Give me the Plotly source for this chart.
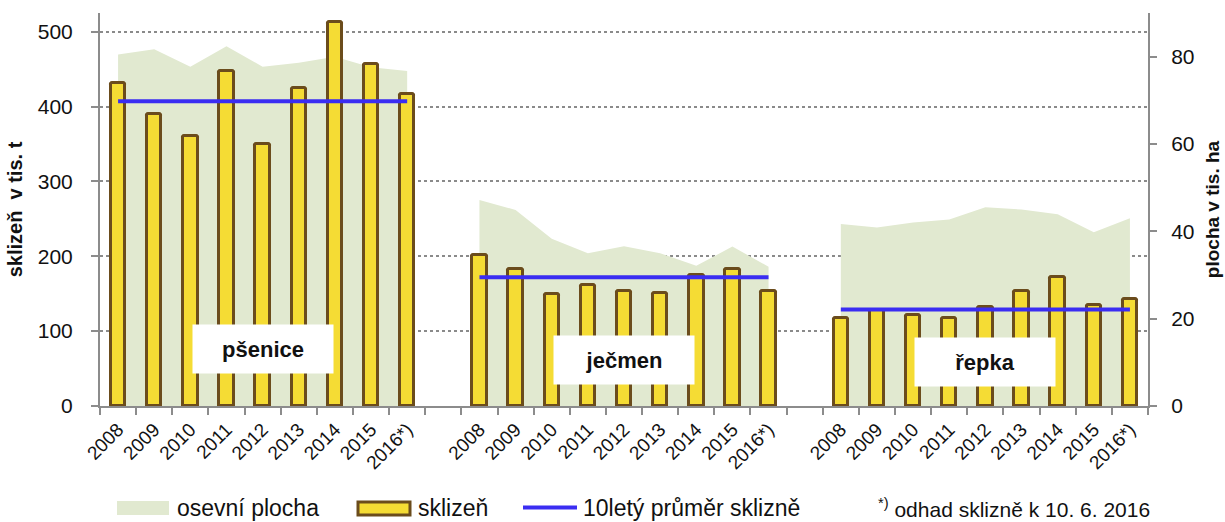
import plotly.graph_objects as go

# ---------------- data ----------------
crops = ["pšenice", "ječmen", "řepka"]
years = ["2008", "2009", "2010", "2011", "2012", "2013", "2014", "2015", "2016*)"]

# sklizeň v tis. t (left axis)
harvest_psenice = [431, 390, 361, 447, 350, 425, 513, 457, 417]
harvest_jecmen = [202, 183, 149, 162, 154, 151, 175, 183, 154]
harvest_repka = [117, 128, 122, 117, 132, 154, 172, 135, 143]

# osevní plocha v tis. ha (right axis)
area_psenice = [80.5, 81.7, 77.7, 82.4, 77.7, 78.6, 80.0, 77.6, 76.7]
area_jecmen = [47.2, 44.9, 38.3, 35.0, 36.6, 35.0, 32.1, 36.5, 31.9]
area_repka = [41.7, 40.9, 42.0, 42.7, 45.5, 45.0, 43.9, 39.8, 43.0]

# 10letý průměr sklizně
avg_harvest = [407, 172, 129]

harvests = [harvest_psenice, harvest_jecmen, harvest_repka]
areas = [area_psenice, area_jecmen, area_repka]

# ---------------- styles ----------------
FONT = "Liberation Sans, Arial, sans-serif"
AREA_COLOR = "#e1e9d0"
BAR_FILL = "#f5dc34"
BAR_LINE = "#6b4c1c"
AVG_COLOR = "#3a2df2"
AXIS_COLOR = "#8c8c8c"
TXT = "#111111"

GROUP_STEP = len(years) + 1  # one empty slot between groups
n_slots = GROUP_STEP * len(crops) - 1


def slot(g, i):
    return g * GROUP_STEP + i


fig = go.Figure()

# osevní plocha (areas, right axis = base y)
for g, vals in enumerate(areas):
    fig.add_trace(go.Scatter(
        x=[slot(g, i) for i in range(len(years))], y=vals,
        mode="lines", line=dict(width=0, color=AREA_COLOR),
        fill="tozeroy", fillcolor=AREA_COLOR,
        name="osevní plocha", legendgroup="area", showlegend=False,
        yaxis="y", hoverinfo="skip",
    ))

# sklizeň (bars, left axis = y2)
bar_x, bar_y = [], []
for g, vals in enumerate(harvests):
    for i, v in enumerate(vals):
        bar_x.append(slot(g, i))
        bar_y.append(v)
fig.add_trace(go.Bar(
    x=bar_x, y=bar_y, yaxis="y2", width=0.4,
    marker=dict(color=BAR_FILL, line=dict(color=BAR_LINE, width=3), cornerradius=2),
    name="sklizeň", showlegend=False,
))

# 10letý průměr
for g, v in enumerate(avg_harvest):
    fig.add_trace(go.Scatter(
        x=[slot(g, 0), slot(g, len(years) - 1)], y=[v, v],
        mode="lines", line=dict(color=AVG_COLOR, width=4),
        yaxis="y2", name="10letý průměr sklizně", showlegend=False,
    ))

# ---------------- axes ----------------
tickvals = [slot(g, i) for g in range(len(crops)) for i in range(len(years))]
ticktext = [y for _ in crops for y in years]

fig.update_layout(
    width=1225, height=522,
    margin=dict(l=100, r=77, t=13, b=116, autoexpand=False),
    paper_bgcolor="white", plot_bgcolor="white",
    font=dict(family=FONT, color=TXT),
    showlegend=False,
    bargap=0,
    xaxis=dict(
        range=[-0.5, n_slots - 0.5],
        tickmode="array", tickvals=tickvals, ticktext=ticktext,
        tickangle=-45, tickfont=dict(size=19, color=TXT),
        ticks="", ticklabelstandoff=3,
        showline=True, linecolor=AXIS_COLOR, linewidth=2,
        showgrid=False, zeroline=False,
        minor=dict(tickmode="linear", tick0=-0.5, dtick=1, ticks="outside",
                   ticklen=7, tickwidth=1.5, tickcolor=AXIS_COLOR, showgrid=False),
    ),
    yaxis=dict(
        side="right", range=[0, 90], tickmode="linear", tick0=0, dtick=20,
        ticks="outside", ticklen=7, tickwidth=1.5, tickcolor=AXIS_COLOR,
        showline=True, linecolor=AXIS_COLOR, linewidth=2,
        showgrid=False, zeroline=False,
        tickfont=dict(size=21, color=TXT), ticklabelstandoff=10,
        title=dict(text="<b>plocha v tis. ha</b>", font=dict(size=19, color=TXT), standoff=12),
    ),
    yaxis2=dict(
        overlaying="y", side="left", anchor="x",
        range=[0, 525], tickmode="linear", tick0=0, dtick=100,
        ticks="outside", ticklen=7, tickwidth=1.5, tickcolor=AXIS_COLOR,
        showline=True, linecolor=AXIS_COLOR, linewidth=2,
        showgrid=True, gridcolor="#8a8a8a", griddash="dot", gridwidth=1.5,
        zeroline=False,
        tickfont=dict(size=21, color=TXT), ticklabelstandoff=14,
        title=dict(text="<b>sklizeň  v tis. t</b>", font=dict(size=20, color=TXT), standoff=10),
    ),
)

# ---------------- crop label boxes ----------------
label_y = [0.145, 0.117, 0.112]
for g, name in enumerate(crops):
    fig.add_annotation(
        x=slot(g, (len(years) - 1) / 2), xref="x", y=label_y[g], yref="paper",
        text=f"<b>{name}</b>", showarrow=False,
        font=dict(size=22, color=TXT, family=FONT),
        bgcolor="white", width=138, height=46, borderpad=1,
        xanchor="center", yanchor="middle",
    )

# ---------------- custom legend ----------------
PX_L, PX_R, PX_T, PX_B = 100, 1148, 13, 406


def px(xp):
    return (xp - PX_L) / (PX_R - PX_L)


def py(yp):
    return (PX_B - yp) / (PX_B - PX_T)


fig.add_shape(type="rect", xref="paper", yref="paper",
              x0=px(117), x1=px(169), y0=py(515), y1=py(501),
              fillcolor=AREA_COLOR, line=dict(width=0))
fig.add_shape(type="rect", xref="paper", yref="paper",
              x0=px(358), x1=px(410), y0=py(515), y1=py(502),
              fillcolor=BAR_FILL, line=dict(color=BAR_LINE, width=3))
fig.add_shape(type="line", xref="paper", yref="paper",
              x0=px(523), x1=px(577), y0=py(507.5), y1=py(507.5),
              line=dict(color=AVG_COLOR, width=4))

legend_items = [(175, "osevní plocha"), (416, "sklizeň"), (581, "10letý průměr sklizně")]
for xp, txt in legend_items:
    fig.add_annotation(x=px(xp), y=py(508), xref="paper", yref="paper",
                       text=txt, showarrow=False, xanchor="left", yanchor="middle",
                       font=dict(size=23, color=TXT, family=FONT))

fig.add_annotation(x=px(876), y=py(508), xref="paper", yref="paper",
                   text="<sup>*)</sup> odhad sklizně k 10. 6. 2016", showarrow=False,
                   xanchor="left", yanchor="middle",
                   font=dict(size=21, color=TXT, family=FONT))

fig.write_html(
    "out.html",
    config={"displayModeBar": False},
    post_script="document.body.style.margin='0px';document.body.style.padding='0px';"
                "document.body.style.overflow='hidden';",
)
